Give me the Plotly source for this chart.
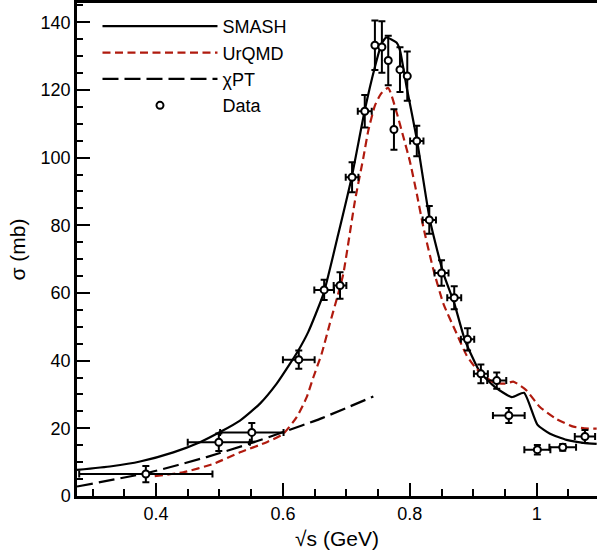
import plotly.graph_objects as go

# SMASH curve
smash_x = [0.2755, 0.33, 0.3748, 0.4273, 0.4693, 0.5009, 0.5324, 0.5639, 0.5902, 0.6112, 0.6243,
           0.64, 0.664, 0.6874, 0.7084, 0.729, 0.745, 0.7557, 0.763, 0.779, 0.7845, 0.795, 0.811,
           0.8318, 0.853, 0.87, 0.887, 0.9106, 0.9343, 0.9606, 0.98, 1.001, 1.021, 1.047,
           1.0735, 1.0945]
smash_y = [7.7, 8.8, 10.2, 12.9, 15.9, 18.9, 22.3, 27.3, 33.2, 39.1, 43.0,
           48.5, 59.8, 77.5, 94.2, 114.0, 126.8, 133.7, 135.5, 134.0, 131.7, 120.8, 105.5,
           81.4, 65.7, 57.0, 46.0, 36.6, 32.2, 29.2, 30.5, 21.1, 18.4, 16.6,
           15.7, 15.4]

# UrQMD curve
urqmd_x = [0.398, 0.443, 0.4903, 0.5324, 0.5745, 0.6006, 0.6217, 0.6375, 0.648, 0.661, 0.674,
           0.685, 0.695, 0.7136, 0.7268, 0.7346, 0.745, 0.755, 0.766, 0.779, 0.79, 0.8, 0.811,
           0.8213, 0.837, 0.853, 0.874, 0.8897, 0.9055, 0.9316, 0.95, 0.963, 0.975, 0.984,
           1.005, 1.0315, 1.0577, 1.075, 1.0945]
urqmd_y = [5.9, 7.0, 9.5, 12.9, 15.9, 18.4, 23.3, 29.2, 35.1, 42.0, 51.0,
           58.3, 65.5, 87.3, 100.0, 108.0, 115.4, 119.0, 120.6, 113.5, 106.0, 99.0, 89.3,
           79.5, 67.0, 56.8, 47.9, 41.5, 37.5, 33.6, 33.2, 33.8, 32.5, 31.2,
           26.3, 22.7, 20.5, 20.0, 19.9]

# chiPT curve
chpt_x = [0.2755, 0.3906, 0.4797, 0.548, 0.6006, 0.6585, 0.7425]
chpt_y = [2.8, 7.0, 11.5, 15.5, 18.9, 22.8, 29.4]

# Data
data_x = [0.384, 0.499, 0.551, 0.625, 0.665, 0.690, 0.709, 0.729, 0.745, 0.756, 0.766,
          0.775, 0.7845, 0.796, 0.811, 0.8307, 0.850, 0.870, 0.891, 0.912, 0.937, 0.956,
          1.001, 1.041, 1.076]
data_y = [6.5, 15.9, 18.8, 40.3, 60.9, 62.2, 94.2, 113.7, 133.2, 132.7, 128.7,
          108.3, 126.0, 124.1, 104.9, 81.6, 65.9, 58.6, 46.3, 36.1, 34.1, 23.8,
          13.7, 14.4, 17.6]
data_xerr = [0.105, 0.049, 0.050, 0.025, 0.0155, 0.010, 0.010, 0.011, 0.0, 0.0, 0.0,
             0.0, 0.0, 0.0, 0.0105, 0.0105, 0.011, 0.011, 0.0105, 0.011, 0.015, 0.025,
             0.0205, 0.021, 0.016]
data_yerr = [2.4, 2.6, 2.8, 2.7, 3.0, 3.9, 4.4, 4.8, 7.3, 7.6, 7.3,
             6.0, 6.6, 7.3, 4.5, 4.1, 3.8, 3.4, 3.3, 2.8, 2.4, 2.2,
             1.4, 1.0, 1.9]

RED = "#B01A0E"
FONT = "Liberation Sans"

fig = go.Figure()
fig.add_trace(go.Scatter(x=smash_x, y=smash_y, mode="lines", name="SMASH",
                         line=dict(color="black", width=2.2, shape="spline", smoothing=0.5)))
fig.add_trace(go.Scatter(x=urqmd_x, y=urqmd_y, mode="lines", name="UrQMD",
                         line=dict(color=RED, width=2.2, dash="8px,4.5px", shape="spline", smoothing=0.5)))
fig.add_trace(go.Scatter(x=chpt_x, y=chpt_y, mode="lines", name="χPT",
                         line=dict(color="black", width=2.2, dash="16px,6px", shape="spline", smoothing=0.5)))
fig.add_trace(go.Scatter(x=data_x, y=data_y, mode="markers", name="Data",
                         marker=dict(symbol="circle", size=7, color="white",
                                     line=dict(color="black", width=2)),
                         error_x=dict(type="data", array=data_xerr, color="black", thickness=2, width=3.5),
                         error_y=dict(type="data", array=data_yerr, color="black", thickness=2, width=3.5)))

axis_common = dict(showgrid=False, zeroline=False, showline=True, linecolor="black", linewidth=2.5,
                   ticks="inside", ticklen=13, tickwidth=2, tickcolor="black",
                   tickfont=dict(family=FONT, size=18, color="black"))

fig.update_xaxes(range=[0.2755, 1.095], tick0=0, dtick=0.2, mirror=True,
                 minor=dict(ticks="inside", dtick=0.05, tick0=0, ticklen=7, tickwidth=1.5, tickcolor="black"),
                 title=dict(text="√s (GeV)", font=dict(family=FONT, size=21, color="black"), standoff=8),
                 **axis_common)
fig.update_yaxes(range=[0, 145.7], tick0=0, dtick=20,
                 minor=dict(ticks="inside", dtick=5, tick0=0, ticklen=6, tickwidth=1.5, tickcolor="black"),
                 title=dict(text="σ (mb)", font=dict(family=FONT, size=21, color="black"), standoff=10),
                 **axis_common)

fig.update_layout(
    width=597, height=556,
    margin=dict(l=77, r=0, t=3, b=60),
    paper_bgcolor="white", plot_bgcolor="white",
    showlegend=True,
    legend=dict(x=0.0394, y=0.99, xanchor="left", yanchor="top", bgcolor="rgba(0,0,0,0)",
                font=dict(family=FONT, size=18, color="black"), itemwidth=115,
                tracegroupgap=0),
)

fig.write_html("out.html", config={"displayModeBar": False},
               post_script="document.body.style.margin='0px';")
